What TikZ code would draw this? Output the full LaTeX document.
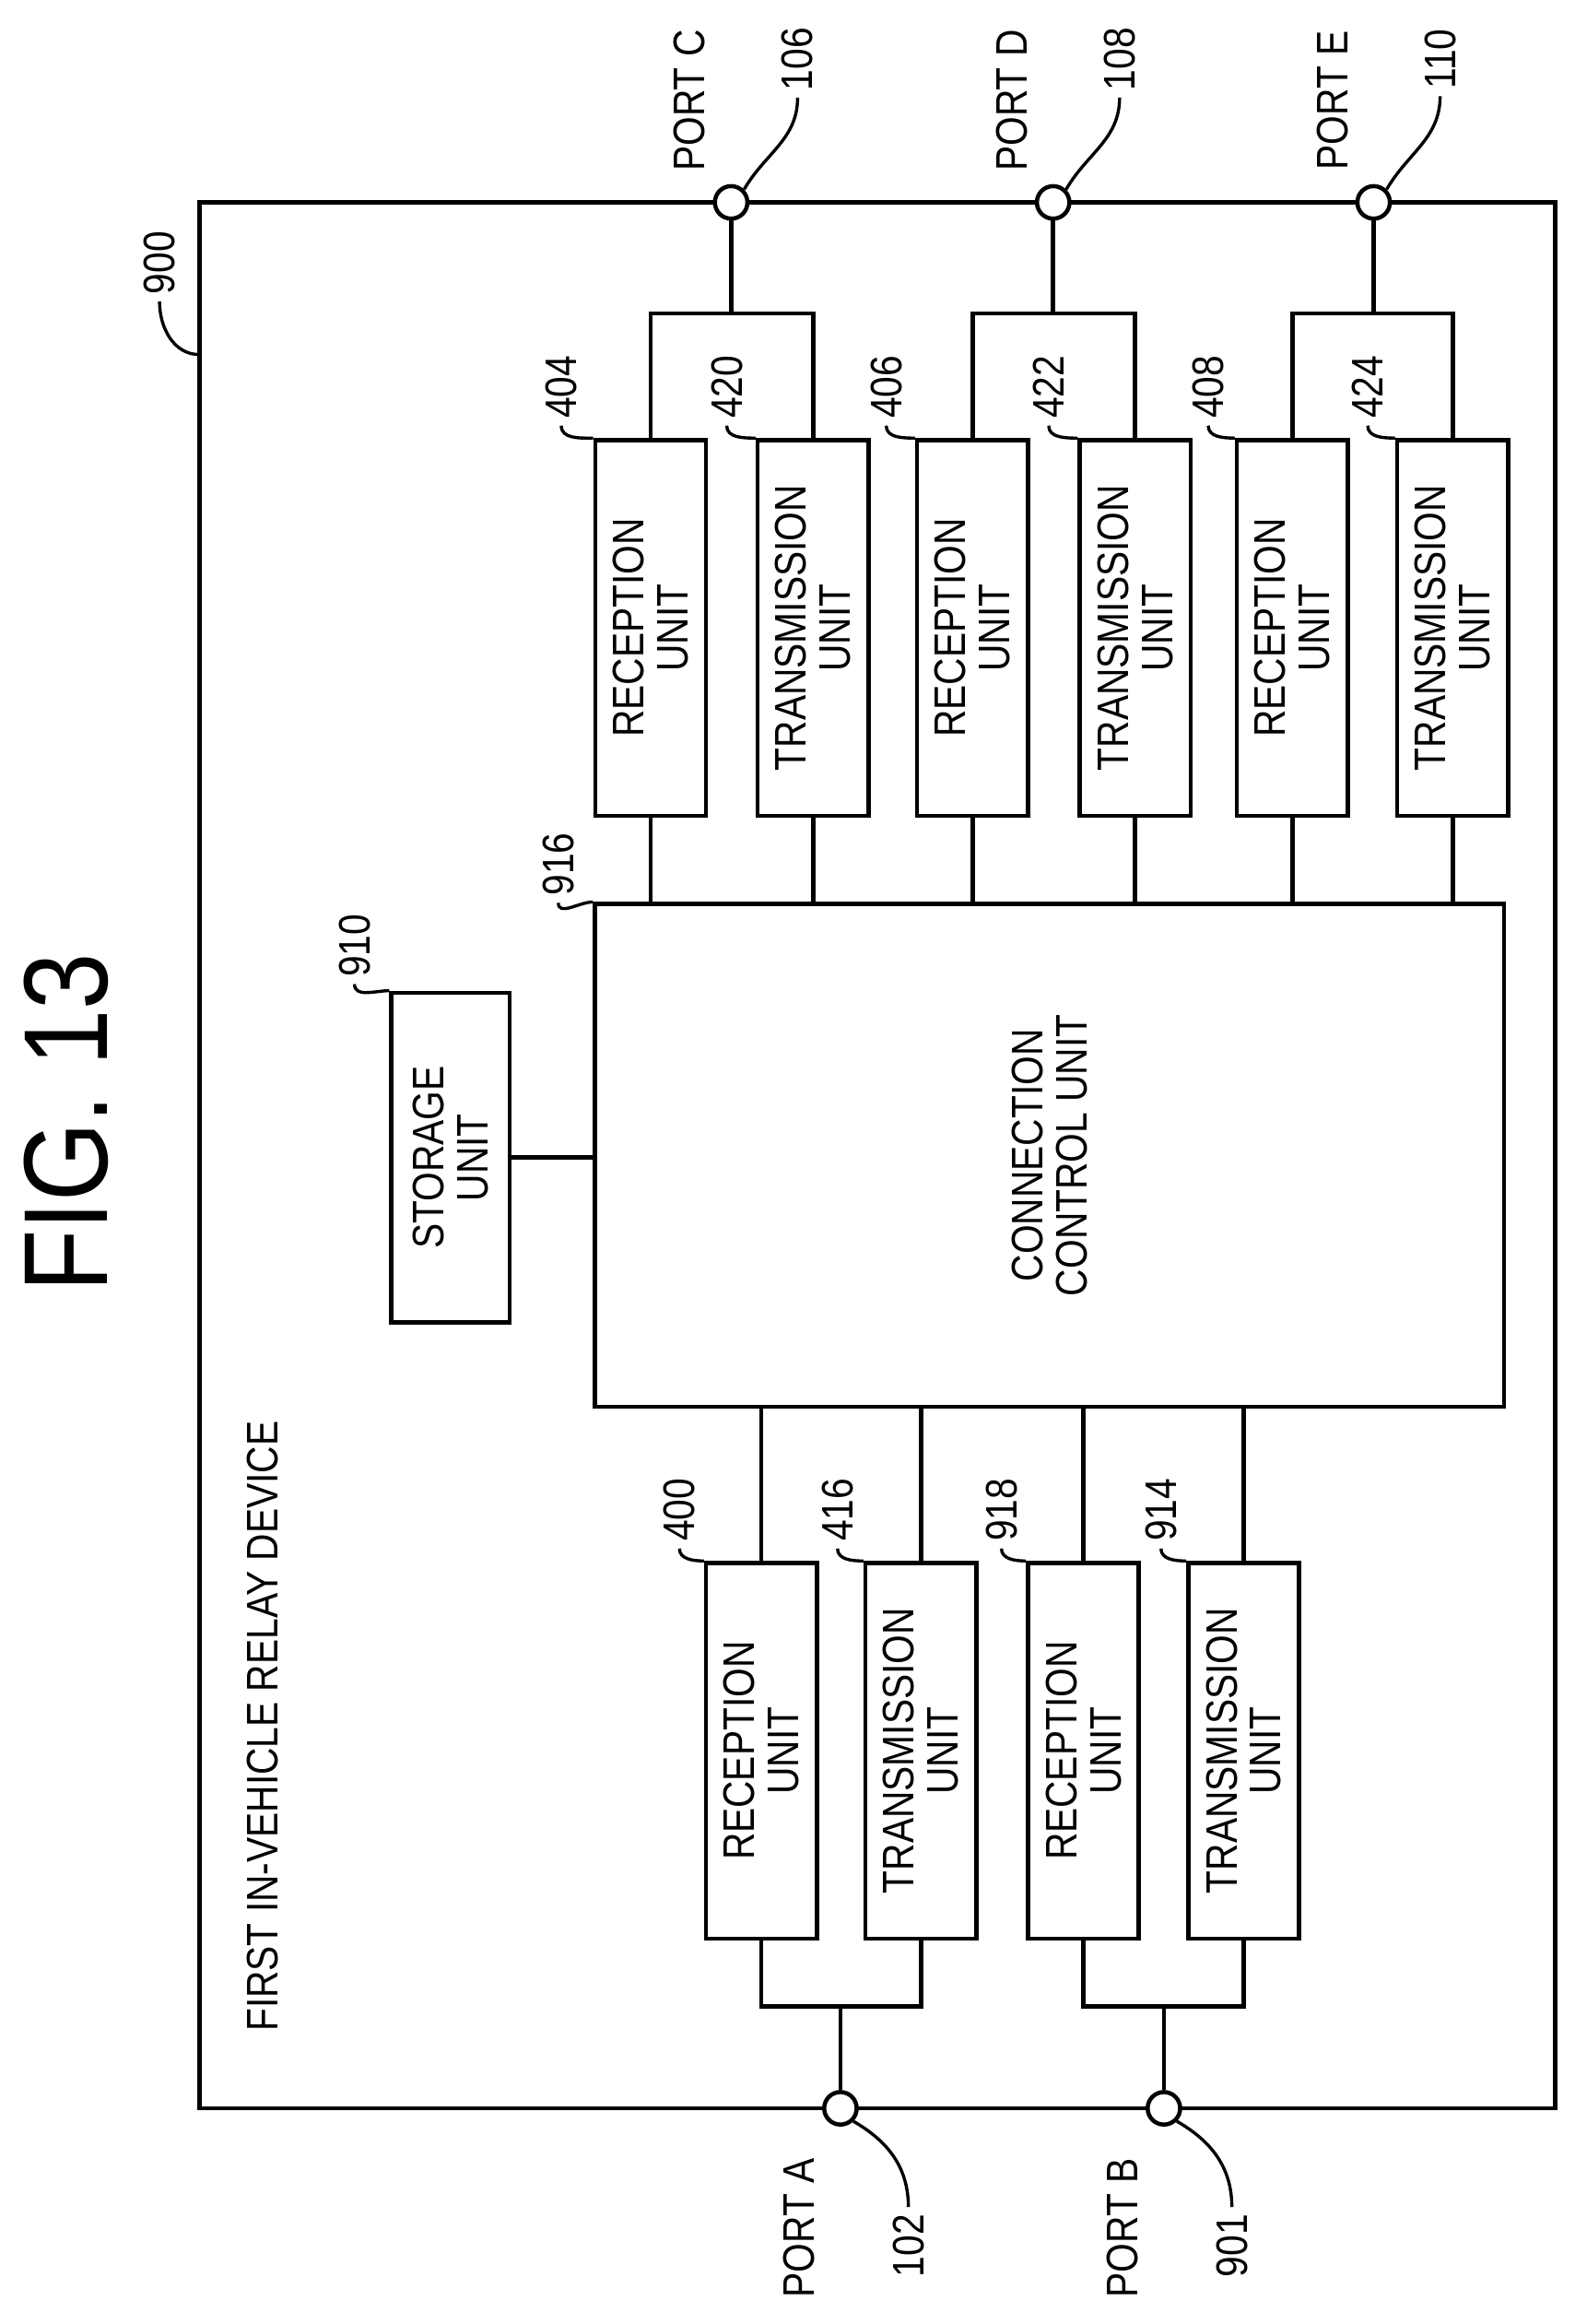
\documentclass[tikz,border=0pt]{standalone}
\usepackage{fontspec}
\setmainfont{Liberation Sans}[FakeStretch=0.85]
\usetikzlibrary{positioning}

\begin{document}
\begin{tikzpicture}[x=0.01cm, y=-0.01cm, line width=0.8pt,
	unit/.style={draw, rotate=90, minimum width=2.54cm, minimum height=0.75cm, align=center, inner sep=0pt, font=\fontsize{8.5}{8.5}\selectfont},
	port/.style={draw, circle, fill=white, minimum size=0.22cm, inner sep=0pt},
	lbl/.style={rotate=90, inner sep=1pt, font=\fontsize{8.5}{10}\selectfont},
	lead/.style={line width=0.6pt}]
	\useasboundingbox (0,0) rectangle (1074,1573);
	% title and frame
	\node[rotate=90, font=\fontsize{23}{23}\selectfont] (fig) at (45,760) {FIG. 13};
	\draw (135,137) rectangle (1053,1427);
	\node[lbl, anchor=west] (dev) at (178,1380) {FIRST IN-VEHICLE RELAY DEVICE};
	\node[lbl] (l900) at (108,178) {900};
	\draw[lead] (l900.west) to[out=-90,in=180] (135,240);
	% storage and connection control
	\node[unit, minimum width=2.23cm, minimum height=0.8cm] (st) at (305,783.5) {STORAGE\\UNIT};
	\node[draw, minimum width=6.15cm, minimum height=3.4cm] (ccu) at (710.5,782) {};
	\node[rotate=90, align=center, font=\fontsize{8.5}{8.5}\selectfont] (ccut) at (ccu) {CONNECTION\\CONTROL UNIT};
	\draw (st.south) -- (st.south -| ccu.west);
	\node[lbl] (l910) at (240,640) {910};
	\draw[lead] (l910.west) to[out=-90,in=180] (st.north east);
	\node[lbl] (l916) at (378,585) {916};
	\draw[lead] (l916.west) to[out=-90,in=180] (ccu.north west);
	% units on the port C, D, E side
	\node[unit] (r404) at (440.5,425) {RECEPTION\\UNIT};
	\node[unit] (t420) at (550.5,425) {TRANSMISSION\\UNIT};
	\node[unit] (r406) at (658.5,425) {RECEPTION\\UNIT};
	\node[unit] (t422) at (768.5,425) {TRANSMISSION\\UNIT};
	\node[unit] (r408) at (875,425) {RECEPTION\\UNIT};
	\node[unit] (t424) at (983.5,425) {TRANSMISSION\\UNIT};
	\foreach \u/\n/\x in {r404/404/380, t420/420/492, r406/406/600, t422/422/710, r408/408/818, t424/424/926} {
		\draw (\u.west) -- (\u.west |- ccu.north);
		\node[lbl] (l\n) at (\x,262) {\n};
		\draw[lead] (l\n.west) to[out=-90,in=180] (\u.north east);
	}
	% units on the port A, B side
	\node[unit] (r400) at (515.5,1185) {RECEPTION\\UNIT};
	\node[unit] (t416) at (623.5,1185) {TRANSMISSION\\UNIT};
	\node[unit] (r918) at (733.5,1185) {RECEPTION\\UNIT};
	\node[unit] (t914) at (842,1185) {TRANSMISSION\\UNIT};
	\foreach \u/\n/\x in {r400/400/460, t416/416/567, r918/918/678, t914/914/786} {
		\draw (\u.east) -- (\u.east |- ccu.south);
		\node[lbl] (l\n) at (\x,1022) {\n};
		\draw[lead] (l\n.west) to[out=-90,in=180] (\u.north east);
	}
	% ports C, D, E
	\foreach \p/\a/\b/\x/\n in {C/r404/t420/495/106, D/r406/t422/713/108, E/r408/t424/930/110} {
		\coordinate (b\p) at (\x,212);
		\draw (\a.east) |- (b\p) -| (\b.east);
		\node[port] (p\p) at (\x,137) {};
		\draw (p\p) -- (b\p);
		\node[lbl] (n\p) at (\x-28,68) {PORT \p};
		\node[lbl] (l\n) at (\x+45,40) {\n};
		\draw[lead] (p\p.north east) to[out=60,in=-90] (l\n.west);
	}
	% ports A, B
	\foreach \p/\a/\b/\x/\n in {A/r400/t416/569/102, B/r918/t914/788/901} {
		\coordinate (b\p) at (\x,1358);
		\draw (\a.west) |- (b\p) -| (\b.west);
		\node[port] (p\p) at (\x,1427) {};
		\draw (b\p) -- (p\p);
		\node[lbl] (n\p) at (\x-28,1508) {PORT \p};
		\node[lbl] (l\n) at (\x+46,1520) {\n};
		\draw[lead] (p\p.south east) to[out=-30,in=90] (l\n.east);
	}
\end{tikzpicture}
\end{document}
